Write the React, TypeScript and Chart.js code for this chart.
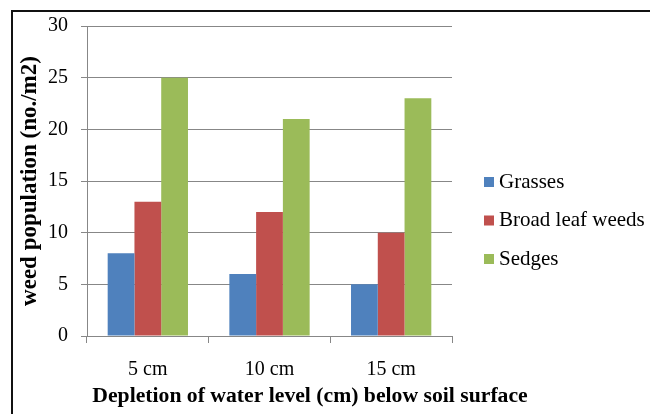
import { useEffect, useRef } from "react";
import { Chart, registerables } from "chart.js";

Chart.register(...registerables);

// Weed counts per square metre for each water-depletion depth
const depthLabels = ["5 cm", "10 cm", "15 cm"];
const grasses = [8, 6, 5];
const broadLeafWeeds = [13, 12, 10];
const sedges = [25, 21, 23];

const seriesNames = ["Grasses", "Broad leaf weeds", "Sedges"];
const seriesColors = ["#4F81BD", "#C0504D", "#9BBB59"];

const yMin = 0;
const yMax = 30;
const yStep = 5;

const xAxisTitle = "Depletion of water level (cm) below soil surface";
const yAxisTitle = "weed population (no./m2)";

const SERIF = "'Times New Roman', 'Liberation Serif', 'DejaVu Serif', serif";
const GRID = "#878787";

// White background plus the black frame along the top and left edges
const framePlugin = {
  id: "frame",
  beforeDraw(chart: any) {
    const { ctx, width, height } = chart;
    ctx.save();
    ctx.fillStyle = "#ffffff";
    ctx.fillRect(0, 0, width, height);
    ctx.strokeStyle = "#111111";
    ctx.lineWidth = 2;
    ctx.beginPath();
    ctx.moveTo(12, height);
    ctx.lineTo(12, 11);
    ctx.lineTo(width, 11);
    ctx.stroke();
    ctx.restore();
  },
};

// Legend on the right and the horizontal axis caption
const annotationsPlugin = {
  id: "annotations",
  afterDraw(chart: any) {
    const { ctx } = chart;
    ctx.save();
    ctx.textBaseline = "middle";

    chart.data.datasets.forEach((ds: any, i: number) => {
      const cy = 182 + i * 38.5;
      ctx.fillStyle = ds.backgroundColor;
      ctx.fillRect(484, cy - 5, 10, 10);
      ctx.fillStyle = "#000000";
      ctx.textAlign = "left";
      ctx.font = `21px ${SERIF}`;
      ctx.fillText(ds.label, 499, cy);
    });

    ctx.fillStyle = "#000000";
    ctx.textAlign = "center";
    ctx.font = `bold 21.7px ${SERIF}`;
    ctx.fillText(xAxisTitle, 310, 396);
    ctx.restore();
  },
};

export default function App() {
  const canvasRef = useRef<HTMLCanvasElement | null>(null);

  useEffect(() => {
    let chart: Chart | null = null;
    let cancelled = false;

    const build = () => {
      if (cancelled || !canvasRef.current) return;
      const values = [grasses, broadLeafWeeds, sedges];
      chart = new Chart(canvasRef.current, {
        type: "bar",
        data: {
          labels: depthLabels,
          datasets: values.map((data, i) => ({
            label: seriesNames[i],
            data,
            backgroundColor: seriesColors[i],
            borderWidth: 0,
            categoryPercentage: 0.66,
            barPercentage: 1,
          })),
        },
        options: {
          animation: false,
          responsive: false,
          maintainAspectRatio: false,
          layout: { padding: { left: 0, right: 198, top: 26, bottom: 0 } },
          plugins: {
            legend: { display: false },
            tooltip: { enabled: false },
          },
          scales: {
            x: {
              afterFit: (scale: any) => {
                scale.height = 78;
              },
              grid: {
                offset: true,
                drawOnChartArea: false,
                drawTicks: true,
                tickLength: 7,
                color: GRID,
              },
              border: { color: GRID, width: 1 },
              ticks: {
                color: "#000000",
                padding: 15,
                font: { family: SERIF, size: 20 },
              },
            },
            y: {
              min: yMin,
              max: yMax,
              afterFit: (scale: any) => {
                scale.width = 87;
              },
              grid: {
                color: GRID,
                drawTicks: true,
                tickLength: 6,
              },
              border: { color: GRID, width: 1 },
              ticks: {
                stepSize: yStep,
                color: "#000000",
                padding: 13,
                font: { family: SERIF, size: 20 },
              },
              title: {
                display: true,
                text: yAxisTitle,
                color: "#000000",
                padding: { top: 16, bottom: 0 },
                font: { family: SERIF, size: 23, weight: "bold" },
              },
            },
          },
        },
        plugins: [framePlugin, annotationsPlugin],
      });
    };

    const fonts = (document as any).fonts;
    if (fonts && fonts.load) {
      Promise.all([
        fonts.load(`20px ${SERIF}`),
        fonts.load(`bold 20px ${SERIF}`),
      ])
        .catch(() => undefined)
        .then(build);
    } else {
      build();
    }

    return () => {
      cancelled = true;
      if (chart) chart.destroy();
    };
  }, []);

  return (
    <div
      style={{
        position: "fixed",
        left: 0,
        top: 0,
        width: 650,
        height: 414,
        background: "#ffffff",
      }}
    >
      <canvas ref={canvasRef} width={650} height={414} style={{ display: "block" }} />
    </div>
  );
}
